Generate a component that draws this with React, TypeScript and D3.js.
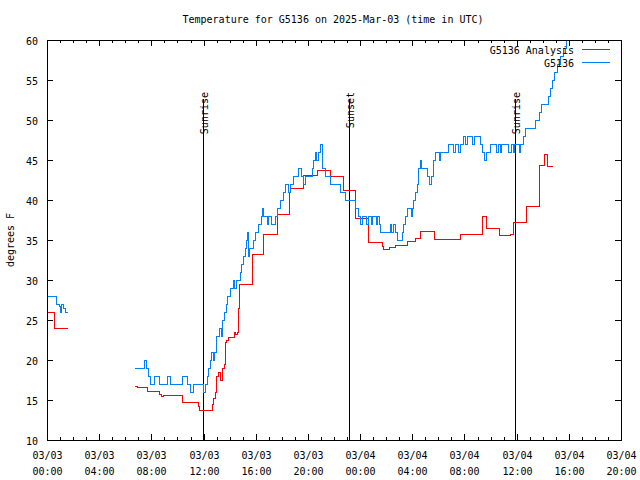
import React from "react";
import * as d3 from "d3";

const TITLE = "Temperature for G5136 on 2025-Mar-03 (time in UTC)";
const Y_LABEL = "degrees F";
const START_ISO = "2025-03-03T00:00:00Z";
const END_ISO = "2025-03-04T20:00:00Z";
const Y_TICKS = [10, 15, 20, 25, 30, 35, 40, 45, 50, 55, 60];

// hours since 2025-03-03 00:00 UTC; null = data gap
const blueHours = [
  0.0, 0.67, 0.92, 1.0, 1.07, 1.25, 1.38, 1.51, null,
  6.67, 7.44, 7.59, 7.74, 7.9, 8.2, 8.59, 9.2, 9.43, 10.35, 10.73, 10.96, 11.19, 11.96, 12.11, 12.27, 12.34, 12.5,
  12.57, 12.73, 12.8, 12.96, 13.19, 13.34, 13.42, 13.57, 13.72, 13.8, 14.03, 14.26, 14.34, 14.49, 14.8, 14.87,
  15.03, 15.18, 15.26, 15.33, 15.41, 15.49, 15.79, 15.95, 16.18, 16.41, 16.48, 16.56, 16.87, 16.94, 17.17, 17.48,
  17.63, 17.86, 18.09, 18.25, 18.48, 18.63, 18.86, 19.24, 19.47, 19.63, 19.78, 20.31, 20.39, 20.54, 20.62, 20.78,
  20.93, 21.08, 21.31, 21.69, 22.46, 22.84, 23.61, 23.84, 23.99, 24.15, 24.45, 24.61, 24.84, 24.91, 25.22, 25.3,
  25.45, 25.53, 26.29, 26.37, 26.52, 26.68, 26.83, 27.21, 27.29, 27.44, 27.6, 27.9, 27.98, 28.06, 28.21, 28.36,
  28.44, 28.59, 28.67, 29.15, 29.28, 29.41, 29.57, 29.74, 30.05, 30.13, 30.74, 31.12, 31.28, 31.51, 31.66, 31.89,
  32.04, 32.2, 32.58, 32.73, 33.19, 33.35, 33.5, 33.65, 33.96, 34.42, 34.57, 34.73, 34.8, 35.34, 35.57, 35.72,
  35.8, 36.18, 36.26, 36.49, 36.64, 37.41, 37.72, 37.87, 38.41, 38.56, 38.71, 38.87, 39.1, 39.33, 39.56, 39.79,
  40.02, 40.25,
];
const blueTemps = [
  28, 27, 26.7, 26, 27, 26.5, 26, 26, null,
  19, 20, 19, 18, 17, 18, 17, 18, 17, 18, 17, 16, 17, 16, 17, 18, 19, 20,
  21, 20, 21, 23, 24, 23, 25, 26, 27, 28, 29, 30, 29, 30, 31, 32,
  33, 34, 35, 36, 33, 34, 35, 36, 37, 38, 39, 38, 37, 38, 37, 38,
  39, 40, 41, 42, 41, 42, 43, 44, 43, 42, 43, 44, 45, 46, 45, 46,
  47, 44, 43, 42, 41, 40, 39, 38, 37, 38, 37, 38, 37, 38, 37, 38,
  37, 36, 37, 36, 37, 36, 35, 36, 37, 38, 39, 38, 39, 40, 41, 42,
  44, 45, 44, 43, 42, 43, 45, 46, 45, 46, 47, 46, 47, 46, 47, 48,
  47, 48, 47, 48, 47, 46, 45, 46, 47, 46, 47, 46, 47, 46, 47, 46,
  47, 46, 47, 48, 49, 50, 51, 52, 53, 54, 55, 56, 57, 58, 59, 60,
  61, 61,
];

const redHours = [
  0.0, 0.56, 1.51, null,
  6.67, 6.9, 7.67, 8.59, 8.74, 8.89, 10.35, 11.58, 11.65, 12.65, 12.73, 12.88, 12.96, 13.11, 13.26, 13.42, 13.57,
  13.65, 13.72, 13.88, 14.34, 14.41, 14.57, 14.64, 14.72, 15.72, 16.56, 17.63, 18.55, 18.63, 19.62, 20.7, 21.69,
  22.69, 23.61, 24.61, 25.68, 25.76, 26.22, 26.68, 27.6, 28.21, 28.59, 29.67, 31.66, 33.35, 33.65, 34.65, 35.49,
  35.72, 36.64, 36.72, 37.72, 38.1, 38.29, 38.71,
];
const redTemps = [
  26, 24, 24, null,
  16.7, 16.6, 16.1, 15.8, 15.5, 15.6, 14.7, 14.2, 13.7, 14.5, 15.2, 16, 18, 18.5, 17.5, 19, 19.5,
  22.3, 22.5, 22.9, 23.5, 23.2, 23.5, 26.5, 29.5, 33.2, 35.8, 38.3, 41, 41.5, 43.1, 43.8, 43,
  41.25, 37.7, 34.7, 34.2, 33.9, 34.1, 34.4, 34.9, 35.2, 36.1, 35.1, 35.8, 38, 36.5, 35.6, 35.8,
  37.2, 37.3, 39.2, 44.4, 45.75, 44.3, 44.3,
];

const eventLabels = ["Sunrise", "Sunset", "Sunrise"];
const eventHours = [11.92, 23.17, 35.88];

const seriesNames = ["G5136 Analysis", "G5136"];
const seriesColors = ["#ff0000", "#0080ff"];

const FONT = "'DejaVu Sans Mono', monospace";

export default function App() {
  const W = 640, H = 480;
  const L = 47, R = 621, T = 40, B = 440;
  const start = new Date(START_ISO);
  const end = new Date(END_ISO);
  const x = d3.scaleUtc().domain([start, end]).range([L, R]);
  const y = d3.scaleLinear().domain([10, 60]).range([B, T]);
  const hx = (h: number) => x(new Date(start.getTime() + h * 3600e3));

  type P = { h: number | null; v: number | null };
  const mk = (hs: (number | null)[], vs: (number | null)[]): P[] => hs.map((h, i) => ({ h, v: vs[i] }));
  const line = d3
    .line<P>()
    .defined((d) => d.h != null && d.v != null)
    .x((d) => Math.round(hx(d.h as number)) + 0.5)
    .y((d) => Math.round(y(d.v as number)) + 0.5)
    .curve(d3.curveStepAfter);

  const majors = x.ticks(d3.utcHour.every(4) as any);
  const minors = x.ticks(d3.utcHour.every(1) as any);
  const fDate = d3.utcFormat("%m/%d");
  const fTime = d3.utcFormat("%H:%M");

  const data = [mk(redHours, redTemps), mk(blueHours, blueTemps)];

  return (
    <svg
      width={W}
      height={H}
      style={{ position: "absolute", left: 0, top: 0, background: "#fff" }}
      fontFamily={FONT}
      fontSize={10}
    >
      <defs>
        <clipPath id="plot">
          <rect x={L} y={T} width={R - L} height={B - T} />
        </clipPath>
      </defs>
      <rect width={W} height={H} fill="#fff" />
      <text x={333} y={23} textAnchor="middle" fill="#000">{TITLE}</text>
      <text transform={`translate(14,240) rotate(-90)`} textAnchor="middle" fill="#000">{Y_LABEL}</text>

      {/* y ticks */}
      {Y_TICKS.map((v) => {
        const yy = Math.round(y(v)) + 0.5;
        return (
          <g key={"y" + v}>
            <line x1={L} x2={L + 6} y1={yy} y2={yy} stroke="#000" shapeRendering="crispEdges" />
            <line x1={R - 6} x2={R} y1={yy} y2={yy} stroke="#000" shapeRendering="crispEdges" />
            <text x={38} y={yy + 4} textAnchor="end" fill="#000">{v}</text>
          </g>
        );
      })}

      {/* x minor ticks */}
      {minors.map((d, i) => {
        const xx = Math.round(x(d)) + 0.5;
        return (
          <g key={"m" + i}>
            <line x1={xx} x2={xx} y1={B} y2={B - 3} stroke="#000" shapeRendering="crispEdges" />
            <line x1={xx} x2={xx} y1={T} y2={T + 3} stroke="#000" shapeRendering="crispEdges" />
          </g>
        );
      })}
      {majors.map((d, i) => {
        const xx = Math.round(x(d)) + 0.5;
        return (
          <g key={"M" + i}>
            <line x1={xx} x2={xx} y1={B} y2={B - 6} stroke="#000" shapeRendering="crispEdges" />
            <line x1={xx} x2={xx} y1={T} y2={T + 6} stroke="#000" shapeRendering="crispEdges" />
            <text x={xx} y={459} textAnchor="middle" fill="#000">{fDate(d)}</text>
            <text x={xx} y={475} textAnchor="middle" fill="#000">{fTime(d)}</text>
          </g>
        );
      })}

      {/* sunrise / sunset */}
      {eventHours.map((h, i) => {
        const xx = Math.round(hx(h)) + 0.5;
        return (
          <g key={"e" + i}>
            <line x1={xx} x2={xx} y1={99} y2={B} stroke="#000" shapeRendering="crispEdges" />
            <text transform={`translate(${xx + 4},92) rotate(-90)`} textAnchor="end" fill="#000">
              {eventLabels[i]}
            </text>
          </g>
        );
      })}

      <g clipPath="url(#plot)">
        {data.map((d, i) => (
          <path key={"s" + i} d={line(d) || ""} fill="none" stroke={seriesColors[i]} strokeWidth={1} shapeRendering="crispEdges" />
        ))}
      </g>

      {/* legend */}
      {seriesNames.map((n, i) => {
        const yy = 49.5 + i * 13;
        return (
          <g key={"l" + i}>
            <text x={574} y={yy + 4} textAnchor="end" fill="#000">{n}</text>
            <line x1={582} x2={610} y1={yy} y2={yy} stroke={seriesColors[i]} shapeRendering="crispEdges" />
          </g>
        );
      })}

      <rect x={L + 0.5} y={T + 0.5} width={R - L} height={B - T} fill="none" stroke="#000" shapeRendering="crispEdges" />
    </svg>
  );
}
